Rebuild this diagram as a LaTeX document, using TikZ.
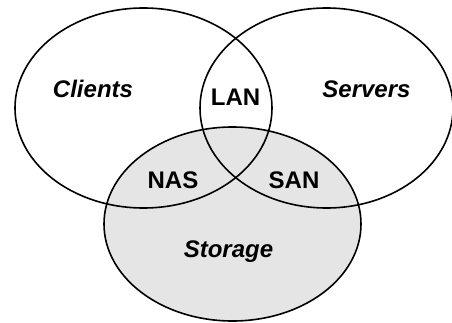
\documentclass[tikz,border=0pt]{standalone}
\usepackage{fontspec}
\setmainfont{Liberation Sans}
\begin{document}
\begin{tikzpicture}[x=1pt,y=1pt,
  outline/.style={draw=black,line width=1.6pt},
  setlabel/.style={font=\fontsize{24}{26}\selectfont\bfseries\itshape,inner sep=0pt},
  linklabel/.style={font=\fontsize{24}{26}\selectfont\bfseries,inner sep=0pt}]
  \useasboundingbox (0,0) rectangle (452,322);
  % storage set, shaded
  \fill[gray!20] (232.5,98) ellipse [x radius=128.5, y radius=97];
  % set outlines
  \draw[outline] (143.5,214) ellipse [x radius=128.5, y radius=100];
  \draw[outline] (326.5,214) ellipse [x radius=126.5, y radius=100];
  \draw[outline] (232.5,98) ellipse [x radius=128.5, y radius=97];
  % labels
  \node[setlabel]  (clients) at (93,233)    {Clients};
  \node[setlabel]  (servers) at (366.5,233) {Servers};
  \node[setlabel]  (storage) at (228.5,70)  {Storage};
  \node[linklabel] (lan)     at (235.5,225) {LAN};
  \node[linklabel] (nas)     at (173,142)   {NAS};
  \node[linklabel] (san)     at (294,142)   {SAN};
\end{tikzpicture}
\end{document}
